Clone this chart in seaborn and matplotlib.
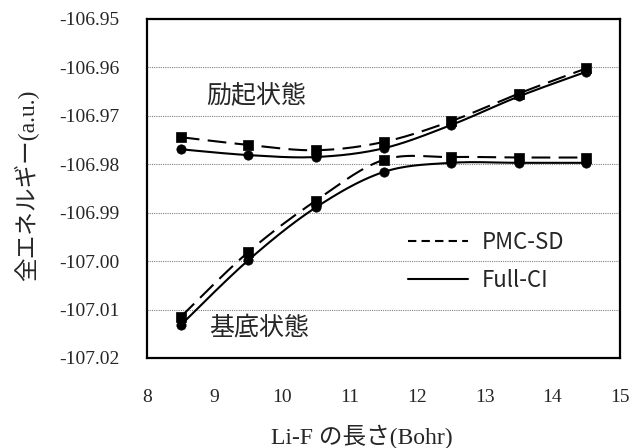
"""LiF potential curves: PMC-SD vs Full-CI, ground and excited states."""

import matplotlib

matplotlib.use("Agg")

import matplotlib.pyplot as plt
from matplotlib.lines import Line2D
import seaborn as sns
import numpy as np
import pandas as pd

# bond length (Bohr)
bond_length = [8.5, 9.5, 10.5, 11.5, 12.5, 13.5, 14.5]

# total energies (a.u.)
pmc_ground = [-107.0115, -106.9981, -106.9875, -106.9791, -106.9785, -106.9786, -106.9786]
fci_ground = [-107.0132, -106.9998, -106.9889, -106.9816, -106.9797, -106.9797, -106.9797]
pmc_excited = [-106.9744, -106.9760, -106.9771, -106.9754, -106.9711, -106.9654, -106.9602]
fci_excited = [-106.9769, -106.9781, -106.9785, -106.9767, -106.9719, -106.9660, -106.9609]

x_ticks = [8, 9, 10, 11, 12, 13, 14, 15]
y_ticks = [-107.02, -107.01, -107.00, -106.99, -106.98, -106.97, -106.96, -106.95]

SERIF = ["Liberation Serif", "Noto Sans CJK JP"]
GOTHIC = ["Noto Sans CJK JP", "DejaVu Sans"]


def smooth(xs, ys, n=30):
    """Catmull-Rom curve through the points (like Excel's smoothed line)."""
    p = np.column_stack([xs, ys]).astype(float)
    p = np.vstack([p[0], p, p[-1]])
    t = np.linspace(0, 1, n)[:, None]
    out = []
    for i in range(1, len(p) - 2):
        p0, p1, p2, p3 = p[i - 1], p[i], p[i + 1], p[i + 2]
        c1 = p1 + (p2 - p0) / 6
        c2 = p2 - (p3 - p1) / 6
        seg = ((1 - t) ** 3) * p1 + 3 * ((1 - t) ** 2) * t * c1 \
            + 3 * (1 - t) * t ** 2 * c2 + t ** 3 * p2
        out.append(seg if i == 1 else seg[1:])
    seg = np.vstack(out)
    return seg[:, 0], seg[:, 1]


sns.set_theme(style="white")
plt.rcParams["font.family"] = SERIF

fig, ax = plt.subplots(figsize=(6.33, 4.48), dpi=100)
fig.subplots_adjust(left=147 / 633, right=620 / 633, bottom=1 - 358 / 448, top=1 - 19 / 448)

series = [
    (pmc_ground, "s", (9, 4)),
    (fci_ground, "o", None),
    (pmc_excited, "s", (9, 4)),
    (fci_excited, "o", None),
]
for ys, marker, dashes in series:
    sx, sy = smooth(bond_length, ys)
    line = pd.DataFrame({"x": sx, "y": sy})
    sns.lineplot(data=line, x="x", y="y", ax=ax, color="black", lw=1.5,
                 sort=False, estimator=None)
    if dashes:
        ax.lines[-1].set_dashes(dashes)
    pts = pd.DataFrame({"x": bond_length, "y": ys})
    sns.scatterplot(data=pts, x="x", y="y", ax=ax, marker=marker, s=45,
                    color="black", edgecolor="black", linewidth=0.5, zorder=3)

ax.set_xlim(8, 15)
ax.set_ylim(-107.02, -106.95)
ax.set_xticks(x_ticks)
ax.set_yticks(y_ticks)
ax.set_xticklabels([str(v) for v in x_ticks], fontsize=14)
ax.set_yticklabels([f"{v:.2f}" for v in y_ticks], fontsize=14)
ax.tick_params(direction="out", length=6, width=1, color="#808080")
ax.tick_params(axis="x", pad=16)
ax.tick_params(axis="y", pad=14)
ax.yaxis.grid(True, linestyle=(0, (1, 1)), color="#808080", lw=0.8)
ax.xaxis.grid(False)
for sp in ax.spines.values():
    sp.set_color("black")
    sp.set_linewidth(1.6)

ax.set_xlabel("Li-F の長さ(Bohr)", fontsize=17, family=SERIF, va="center")
ax.set_ylabel("全エネルギー(a.u.)", fontsize=17, family=SERIF, va="center")
ax.xaxis.set_label_coords(0.455, -0.232)
ax.yaxis.set_label_coords(-0.255, 0.51)

ax.text(9.62, -106.9658, "励起状態", fontsize=18, family=GOTHIC, ha="center", va="center")
ax.text(9.66, -107.0138, "基底状態", fontsize=18, family=GOTHIC, ha="center", va="center")

handles = [
    Line2D([], [], color="black", lw=1.5, dashes=(4, 2.5)),
    Line2D([], [], color="black", lw=1.5),
]
ax.legend(handles, ["PMC-SD", "Full-CI"], loc="upper left",
          bbox_to_anchor=(0.51, 0.435), frameon=False, handlelength=2.7,
          handletextpad=0.6, labelspacing=0.7,
          prop={"family": GOTHIC, "size": 16})

fig.savefig("out.png", dpi=100)
plt.close(fig)
